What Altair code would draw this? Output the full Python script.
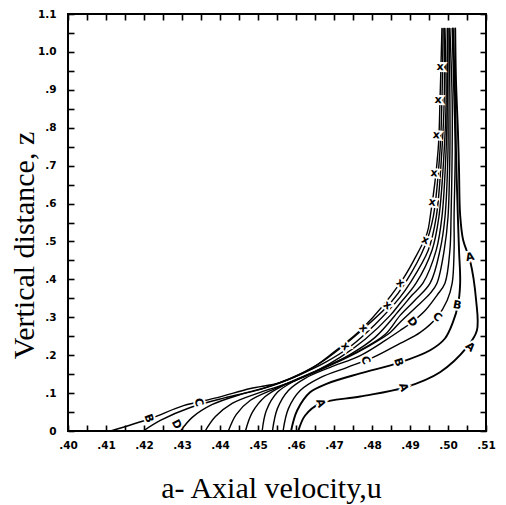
import math
import altair as alt
import pandas as pd

# ---- curves: u = axial velocity, z = vertical distance ----
# curve A (outermost)
A_u = [0.4606, 0.4624, 0.4664, 0.4769, 0.4887, 0.4979, 0.5050, 0.5076, 0.5074, 0.5058, 0.5040, 0.5032, 0.5029, 0.5026, 0.5021, 0.5019]
A_z = [0.0, 0.041, 0.073, 0.091, 0.115, 0.155, 0.221, 0.265, 0.345, 0.450, 0.503, 0.569, 0.688, 0.794, 0.926, 1.062]
# curve B
B_u = [0.4587, 0.4603, 0.4637, 0.4682, 0.4769, 0.4874, 0.4953, 0.4992, 0.5013, 0.5026, 0.5032, 0.5029, 0.5026, 0.5021, 0.5019, 0.5013]
B_z = [0.0, 0.054, 0.102, 0.125, 0.152, 0.181, 0.213, 0.244, 0.287, 0.331, 0.390, 0.477, 0.564, 0.741, 0.873, 1.062]
# curve C
C_u = [0.4566, 0.4580, 0.4611, 0.4664, 0.4735, 0.4803, 0.4874, 0.4927, 0.4971, 0.4998, 0.5011, 0.5016, 0.5016, 0.5019, 0.5016, 0.5011]
C_z = [0.0, 0.059, 0.107, 0.141, 0.168, 0.194, 0.231, 0.260, 0.300, 0.345, 0.390, 0.477, 0.564, 0.741, 0.873, 1.062]
# curve D
D_u = [0.4538, 0.4551, 0.4580, 0.4624, 0.4690, 0.4769, 0.4835, 0.4874, 0.4905, 0.4940, 0.4971, 0.4992, 0.5005, 0.5008, 0.5011, 0.5011, 0.5005]
D_z = [0.0, 0.059, 0.107, 0.139, 0.168, 0.199, 0.239, 0.265, 0.287, 0.318, 0.358, 0.390, 0.477, 0.564, 0.741, 0.873, 1.062]
# inner curves E..K (K is the left envelope)
E_u = [0.4511, 0.4522, 0.4551, 0.4598, 0.4664, 0.4729, 0.4795, 0.4848, 0.4874, 0.4913, 0.4953, 0.4971, 0.4990, 0.5000, 0.5005, 0.5005, 0.5003]
E_z = [0.0, 0.054, 0.102, 0.133, 0.162, 0.191, 0.226, 0.260, 0.287, 0.324, 0.363, 0.390, 0.477, 0.564, 0.741, 0.873, 1.062]
F_u = [0.4467, 0.4485, 0.4519, 0.4572, 0.4637, 0.4703, 0.4769, 0.4835, 0.4874, 0.4913, 0.4953, 0.4979, 0.4992, 0.5000, 0.5000, 0.5000]
F_z = [0.0, 0.049, 0.091, 0.123, 0.152, 0.181, 0.213, 0.255, 0.305, 0.345, 0.390, 0.477, 0.564, 0.741, 0.873, 1.062]
G_u = [0.4422, 0.4443, 0.4480, 0.4545, 0.4611, 0.4677, 0.4743, 0.4808, 0.4874, 0.4905, 0.4934, 0.4969, 0.4984, 0.4995, 0.4998, 0.4998]
G_z = [0.0, 0.044, 0.081, 0.112, 0.139, 0.168, 0.202, 0.247, 0.321, 0.358, 0.390, 0.477, 0.564, 0.741, 0.873, 1.062]
H_u = [0.4361, 0.4388, 0.4432, 0.4506, 0.4585, 0.4651, 0.4716, 0.4782, 0.4848, 0.4874, 0.4916, 0.4958, 0.4976, 0.4990, 0.4995, 0.4992]
H_z = [0.0, 0.038, 0.073, 0.102, 0.128, 0.157, 0.194, 0.242, 0.305, 0.337, 0.390, 0.477, 0.564, 0.741, 0.873, 1.062]
I_u = [0.4296, 0.4327, 0.4380, 0.4453, 0.4538, 0.4611, 0.4677, 0.4743, 0.4808, 0.4874, 0.4900, 0.4948, 0.4969, 0.4984, 0.4990, 0.4990]
I_z = [0.0, 0.036, 0.070, 0.096, 0.120, 0.149, 0.181, 0.223, 0.281, 0.353, 0.390, 0.477, 0.564, 0.741, 0.873, 1.062]
J_u = [0.4198, 0.4243, 0.4322, 0.4414, 0.4506, 0.4585, 0.4658, 0.4716, 0.4790, 0.4848, 0.4887, 0.4940, 0.4961, 0.4979, 0.4984, 0.4987]
J_z = [0.0, 0.028, 0.062, 0.088, 0.110, 0.139, 0.176, 0.218, 0.281, 0.337, 0.390, 0.490, 0.564, 0.741, 0.873, 1.062]
K_u = [0.4112, 0.4217, 0.4304, 0.4393, 0.4480, 0.4559, 0.4645, 0.4698, 0.4777, 0.4874, 0.4913, 0.4945, 0.4953, 0.4974, 0.4979, 0.4984]
K_z = [0.0, 0.033, 0.067, 0.088, 0.112, 0.128, 0.168, 0.207, 0.273, 0.390, 0.456, 0.522, 0.564, 0.741, 0.873, 1.062]

curves = {"A": (A_u, A_z), "B": (B_u, B_z), "C": (C_u, C_z), "D": (D_u, D_z),
          "E": (E_u, E_z), "F": (F_u, F_z), "G": (G_u, G_z), "H": (H_u, H_z),
          "I": (I_u, I_z), "J": (J_u, J_z), "K": (K_u, K_z)}

# curve labels written along the lines
lab_text  = ["A", "A", "A", "A", "B", "B", "B", "C", "C", "C", "D", "D",
             "x", "x", "x", "x", "x", "x", "x", "x", "x", "x"]
lab_curve = ["A", "A", "A", "A", "B", "B", "K", "C", "C", "K", "D", "J",
             "K", "K", "K", "K", "K", "K", "K", "K", "K", "K"]
lab_u = [0.4664, 0.4882, 0.5058, 0.5058, 0.4869, 0.5024, 0.4212, 0.4782, 0.4971, 0.4343, 0.4905, 0.4285,
         0.4729, 0.4777, 0.4840, 0.4874, 0.4940, 0.4958, 0.4963, 0.4969, 0.4974, 0.4979]
lab_z = [0.073, 0.115, 0.221, 0.458, 0.181, 0.331, 0.033, 0.186, 0.300, 0.075, 0.287, 0.017,
         0.223, 0.271, 0.331, 0.390, 0.503, 0.603, 0.680, 0.780, 0.873, 0.960]

x_ticks = [round(0.40 + 0.005 * i, 3) for i in range(23)]
y_ticks = [round(0.05 * i, 2) for i in range(23)]

W, H = 418, 417
XD, YD = [0.40, 0.51], [0.0, 1.1]

rows = []
for name, (us, zs) in curves.items():
    w = 1.9 if name in ("A", "B") else 1.4
    for k, (u, z) in enumerate(zip(us, zs)):
        rows.append({"curve": name, "order": k, "u": u, "z": z, "w": w})
df = pd.DataFrame(rows)


def label_angle(cname, u, z):
    cu, cz = curves[cname]
    def d2(k):
        return ((cu[k] - u) / 0.11 * W) ** 2 + ((cz[k] - z) / 1.1 * H) ** 2
    i = min(range(len(cu)), key=d2)
    j0, j1 = max(i - 1, 0), min(i + 1, len(cu) - 1)
    dx = (cu[j1] - cu[j0]) / 0.11 * W
    dy = -(cz[j1] - cz[j0]) / 1.1 * H
    return (math.degrees(math.atan2(dy, dx)) + 90) % 360


lab = pd.DataFrame({"t": lab_text, "u": lab_u, "z": lab_z,
                    "ang": [label_angle(c, u, z) for c, u, z in zip(lab_curve, lab_u, lab_z)]})

xs = alt.Scale(domain=XD, nice=False, zero=False)
ys = alt.Scale(domain=YD, nice=False, zero=False)

TICK = 6
common = dict(domain=False, grid=False, tickSize=TICK, offset=-TICK, tickWidth=1.6,
              tickColor="black", labelColor="black", labelFont="DejaVu Sans",
              labelFontSize=10.5, labelFontWeight="bold", labelOverlap=False,
              labelFlush=False, titleColor="black", titleFont="Liberation Serif",
              titleFontWeight="normal", titleFontSize=30)

x_lab = ("abs(datum.value*100 - round(datum.value*100)) < 0.01 ? "
         "'.' + substring(format(datum.value, '.2f'), 2) : ''")
y_lab = ("abs(datum.value*10 - round(datum.value*10)) < 0.01 ? "
         "(datum.value < 0.001 ? '0' : (datum.value > 0.999 ? format(datum.value, '.1f') : "
         "'.' + substring(format(datum.value, '.1f'), 2))) : ''")

x_bottom = alt.Axis(orient="bottom", values=x_ticks, labelExpr=x_lab, labelPadding=9,
                    title="a-    Axial velocity,u", titleX=203, titleY=72,
                    titleAlign="center", titleBaseline="alphabetic", **common)
y_left = alt.Axis(orient="left", values=y_ticks, labelExpr=y_lab, labelPadding=12,
                  title="Vertical distance, z", titleX=-41, titleY=231, titleAngle=270,
                  titleAlign="center", titleBaseline="alphabetic", **common)
x_top = alt.Axis(orient="top", values=x_ticks, labels=False, title=None, **common)
y_right = alt.Axis(orient="right", values=y_ticks, labels=False, title=None, **common)

lines = alt.Chart(df).mark_line(interpolate="catmull-rom", color="black",
                                strokeCap="round", strokeJoin="round").encode(
    x=alt.X("u:Q", scale=xs, axis=x_bottom),
    y=alt.Y("z:Q", scale=ys, axis=y_left),
    detail="curve:N",
    order="order:Q",
    strokeWidth=alt.StrokeWidth("w:Q", scale=None),
)

halo = alt.Chart(lab).mark_text(font="DejaVu Sans", fontSize=11, fontWeight="bold",
                                fill="white", stroke="white", strokeWidth=4).encode(
    x=alt.X("u:Q", scale=xs, axis=None),
    y=alt.Y("z:Q", scale=ys, axis=None),
    text="t:N",
    angle=alt.Angle("ang:Q", scale=None),
)

text = alt.Chart(lab).mark_text(font="DejaVu Sans", fontSize=11, fontWeight="bold",
                                color="black").encode(
    x=alt.X("u:Q", scale=xs, axis=x_top),
    y=alt.Y("z:Q", scale=ys, axis=y_right),
    text="t:N",
    angle=alt.Angle("ang:Q", scale=None),
)

chart = alt.layer(lines, halo, text).resolve_axis(
    x="independent", y="independent"
).properties(
    width=W, height=H,
    autosize=alt.AutoSizeParams(type="none"),
    padding={"left": 68, "top": 14, "right": 20, "bottom": 74},
    background="white",
).configure_view(stroke="black", strokeWidth=2)

chart.save("out.html", embed_options={"renderer": "svg", "actions": False})
